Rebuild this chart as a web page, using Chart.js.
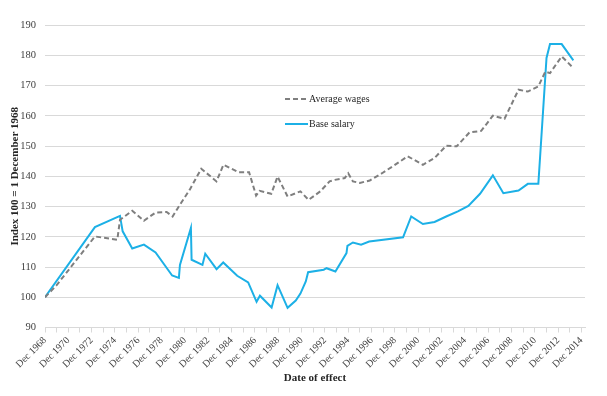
<!DOCTYPE html>
<html>
<head>
<meta charset="utf-8">
<script src="https://cdn.jsdelivr.net/npm/chart.js@4"></script>
<style>
  html, body { margin: 0; padding: 0; background: #fff; }
  #wrap { width: 607px; height: 396px; }
</style>
</head>
<body>
<div id="wrap"><canvas id="indexChart"></canvas></div>
<script>
// years counted from Dec 1968
const wageYears = [0, 1, 4.28, 6.2, 6.43, 7.48, 8.48, 9.48, 10.43, 10.94, 11.57, 12.4, 13.4, 14.7, 15.3, 16.6, 17.5, 18.1, 18.4, 19.4, 19.94, 20.8, 21.9, 22.6, 23.6, 24.4, 24.85, 25.7, 26.0, 26.4, 27.0, 27.85, 28.9, 29.9, 31.1, 32.4, 33.4, 34.4, 35.3, 36.4, 37.4, 38.4, 39.4, 40.6, 41.4, 42.3, 42.9, 43.3, 44.3, 45.3];
const wageValues = [100, 104, 120.1, 119.0, 125.6, 128.6, 125.3, 128.0, 128.2, 126.7, 130.6, 135.5, 142.5, 138.3, 143.8, 141.3, 141.3, 133.6, 135.2, 134.2, 139.9, 133.3, 135.0, 132.2, 135.0, 138.3, 138.8, 139.4, 141.0, 138.3, 137.8, 138.6, 141.0, 143.5, 146.6, 143.8, 146.0, 150.1, 149.9, 154.5, 155.0, 160.0, 159.0, 168.6, 168.0, 169.7, 174.6, 174.1, 179.6, 175.8];

const salaryYears = [0, 4.28, 6.43, 6.66, 7.48, 8.48, 9.48, 10.9, 11.48, 11.57, 12.51, 12.57, 13.5, 13.74, 14.71, 15.28, 16.48, 17.42, 18.14, 18.43, 19.43, 19.94, 20.8, 21.5, 21.9, 22.36, 22.56, 23.9, 24.14, 24.9, 25.85, 25.93, 26.4, 27.1, 27.8, 30.7, 31.4, 32.4, 33.4, 34.4, 35.4, 36.3, 37.3, 38.4, 39.3, 40.6, 41.4, 42.3, 43.0, 43.3, 44.3, 45.3];
const salaryValues = [100, 123.2, 126.9, 121.8, 116.1, 117.4, 114.8, 107.2, 106.4, 110.7, 122.9, 112.4, 110.7, 114.4, 109.3, 111.5, 107.1, 104.9, 98.5, 100.5, 96.6, 104.0, 96.5, 98.9, 101.2, 105.2, 108.3, 109.1, 109.6, 108.5, 114.6, 117.0, 118.1, 117.4, 118.4, 119.8, 126.7, 124.2, 124.9, 126.7, 128.4, 130.2, 134.2, 140.3, 134.4, 135.3, 137.5, 137.5, 179.1, 183.7, 183.7, 178.3];

const seriesNames = ['Average wages', 'Base salary'];
const startYear = 1968;

const serif = "'Liberation Serif', 'Times New Roman', serif";
const pts = (xs, ys) => xs.map((x, i) => ({ x: x, y: ys[i] }));

// legend drawn inside the plot, Excel style
const innerLegend = {
    id: 'innerLegend',
    afterDraw(chart) {
        const c = chart.ctx;
        const rows = [
            { text: seriesNames[0], color: '#7f7f7f', dash: [5, 3], y: 99 },
            { text: seriesNames[1], color: '#1cb0e6', dash: [], y: 124 }
        ];
        c.save();
        c.font = '10px ' + serif;
        c.textBaseline = 'middle';
        rows.forEach(r => {
            c.strokeStyle = r.color;
            c.lineWidth = 2;
            c.setLineDash(r.dash);
            c.beginPath();
            c.moveTo(285, r.y);
            c.lineTo(308, r.y);
            c.stroke();
            c.fillStyle = '#262626';
            c.fillText(r.text, 309, r.y);
        });
        c.restore();
    }
};

new Chart(document.getElementById('indexChart'), {
    type: 'line',
    data: {
        datasets: [{
            label: seriesNames[0],
            data: pts(wageYears, wageValues),
            borderColor: '#7f7f7f',
            borderWidth: 2,
            borderDash: [5, 3],
            pointRadius: 0,
            tension: 0
        }, {
            label: seriesNames[1],
            data: pts(salaryYears, salaryValues),
            borderColor: '#1cb0e6',
            borderWidth: 2,
            pointRadius: 0,
            tension: 0
        }]
    },
    options: {
        responsive: true,
        maintainAspectRatio: false,
        animation: false,
        layout: { padding: { top: 25, right: 22, left: 0, bottom: 0 } },
        plugins: {
            legend: { display: false },
            tooltip: { enabled: false }
        },
        scales: {
            x: {
                type: 'linear',
                min: 0,
                max: 46.3,
                afterFit: s => { s.height = 68.5; },
                grid: { drawOnChartArea: false, drawTicks: true, tickLength: 5, color: '#d9d9d9' },
                border: { color: '#d9d9d9' },
                ticks: {
                    stepSize: 1,
                    autoSkip: false,
                    includeBounds: false,
                    minRotation: 45,
                    maxRotation: 45,
                    padding: 2,
                    color: '#404040',
                    font: { family: serif, size: 10 },
                    callback: v => (v % 2 === 0 ? 'Dec ' + (startYear + v) : '')
                },
                title: {
                    display: true,
                    text: 'Date of effect',
                    color: '#262626',
                    font: { family: serif, size: 11, weight: 'bold' },
                    padding: { top: 0, bottom: 11 }
                }
            },
            y: {
                min: 90,
                max: 190,
                afterFit: s => { s.width = 45; },
                grid: { color: '#d9d9d9', drawTicks: false },
                border: { display: false },
                ticks: {
                    stepSize: 10,
                    padding: 9,
                    color: '#404040',
                    font: { family: serif, size: 10.5 }
                },
                title: {
                    display: true,
                    text: 'Index 100 = 1 December 1968',
                    color: '#262626',
                    font: { family: serif, size: 11, weight: 'bold' },
                    padding: { top: 9, bottom: 0 }
                }
            }
        }
    },
    plugins: [innerLegend]
});
</script>
</body>
</html>
